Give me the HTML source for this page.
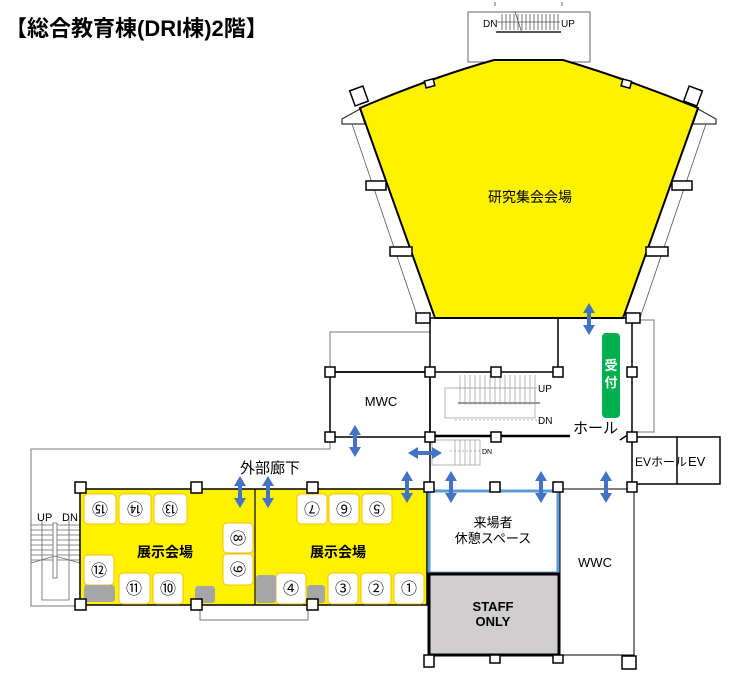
<!DOCTYPE html>
<html><head><meta charset="utf-8"><style>
html,body{margin:0;padding:0;background:#fff;}
svg{display:block;font-family:"Liberation Sans","Noto Sans CJK JP",sans-serif;}
</style></head><body>
<svg width="741" height="680" viewBox="0 0 741 680" xmlns="http://www.w3.org/2000/svg">
<defs>
<g id="va"><polygon points="0,-16 -6,-6 -2,-6 -2,6 -6,6 0,16 6,6 2,6 2,-6 6,-6" fill="#4472c4"/></g>
<g id="ha"><polygon points="-17,0 -7,-6 -7,-2 7,-2 7,-6 17,0 7,6 7,2 -7,2 -7,6" fill="#4472c4"/></g>
</defs>
<text x="5" y="36" font-size="22" font-weight="bold">【総合教育棟(DRI棟)2階】</text>

<!-- top stair -->
<rect x="468" y="12" width="122" height="50" fill="#fff" stroke="#666" stroke-width="1"/>
<line x1="495" y1="2" x2="495" y2="6" stroke="#666"/><line x1="562" y1="2" x2="562" y2="6" stroke="#666"/>
<g stroke="#555" stroke-width="0.8">
<line x1="497" y1="22" x2="560" y2="22"/><line x1="496" y1="32" x2="561" y2="32" stroke-width="2"/>
<path d="M502 14v16M506 14v16M510 14v16M514 14v16M518 14v16M522 14v16M526 14v16M530 14v16M534 14v16M538 14v16M542 14v16M546 14v16M550 14v16M554 14v16M558 14v16"/>
<line x1="515" y1="12" x2="522" y2="33"/></g>
<text x="483" y="27" font-size="10">DN</text><text x="561" y="27" font-size="10">UP</text>

<!-- wing lines -->
<g fill="#fff" stroke="#333" stroke-width="1.2">
<polygon points="342,124 342,119 360,109 365,124"/>
<polygon points="716,124 716,119 698,109 693,124"/>
</g>
<line x1="352" y1="124" x2="418" y2="318" stroke="#555" stroke-width="0.8"/>
<line x1="706" y1="124" x2="640" y2="318" stroke="#555" stroke-width="0.8"/>
<!-- main hall -->
<path d="M360,108 Q430,78 494,60 L563,60 Q630,80 698,108 L623,318 L435,318 Z" fill="#fff200" stroke="#000" stroke-width="2"/>
<g fill="#fff" stroke="#000" stroke-width="1.5">
<rect x="352" y="88" width="14" height="16" transform="rotate(-20 359 96)"/>
<rect x="686" y="88" width="14" height="16" transform="rotate(20 693 96)"/>
<rect x="425" y="80" width="9" height="7" transform="rotate(-15 429 83)"/>
<rect x="622" y="80" width="9" height="7" transform="rotate(15 626 83)"/>
<rect x="366" y="181" width="20" height="9"/><rect x="390" y="247" width="22" height="9"/>
<rect x="672" y="181" width="20" height="9"/><rect x="646" y="247" width="22" height="9"/>
</g>
<text x="530" y="202" font-size="14" text-anchor="middle">研究集会会場</text>

<!-- thin outlines -->
<g fill="none" stroke="#777" stroke-width="1">
<polyline points="330,437 330,449 31,449 31,606 80,606"/>
<polyline points="330,372 330,332 430,332"/>
<polyline points="632,320 654,320 654,432 632,432"/>
<polyline points="200,605 200,620 308,620 308,605"/>
</g>
<!-- central walls -->
<g fill="none" stroke="#000" stroke-width="1.5">
<line x1="428" y1="318" x2="632" y2="318"/>
<line x1="430" y1="318" x2="430" y2="489"/>
<line x1="632" y1="318" x2="632" y2="437"/>
<line x1="558" y1="318" x2="558" y2="372"/>
<line x1="330" y1="372" x2="560" y2="372"/>
<rect x="330" y="372" width="100" height="65"/>
<line x1="430" y1="436" x2="570" y2="436" stroke-width="2.5"/>
<rect x="632" y="437" width="88" height="47"/>
<line x1="677" y1="437" x2="677" y2="484"/>
<line x1="632" y1="484" x2="632" y2="489"/>
<line x1="620" y1="440" x2="632" y2="432"/>
<line x1="622" y1="490" x2="634" y2="498"/>
</g>
<!-- stairs center -->
<g stroke="#999" stroke-width="0.7" fill="none">
<rect x="445" y="388" width="90" height="30"/>
<path d="M460 375v30M465 375v30M470 375v30M475 375v30M480 375v30M485 375v30M490 375v30M495 375v30M500 375v30M505 375v30M510 375v30M515 375v30M520 375v30M525 375v30M530 375v30M535 375v30"/>
<line x1="455" y1="388" x2="540" y2="388" stroke-dasharray="2,2"/>
<line x1="455" y1="420" x2="540" y2="420" stroke-dasharray="2,2"/>
<line x1="458" y1="403" x2="540" y2="403" stroke-width="2"/>
<rect x="432" y="440" width="48" height="25"/>
<path d="M455 440v25M460 440v25M465 440v25M470 440v25M475 440v25"/>
<line x1="450" y1="451" x2="480" y2="451" stroke-dasharray="2,2"/>
</g>
<text x="538" y="392" font-size="10">UP</text><text x="538" y="424" font-size="10">DN</text>
<text x="482" y="454" font-size="7">DN</text>
<text x="381" y="406" font-size="13" text-anchor="middle">MWC</text>
<text x="573" y="433" font-size="15">ホール</text>
<rect x="602" y="333" width="18" height="85" rx="4" fill="#00b050"/>
<text x="611" y="370" font-size="13" font-weight="bold" fill="#fff" text-anchor="middle">受</text>
<text x="611" y="387" font-size="13" font-weight="bold" fill="#fff" text-anchor="middle">付</text>
<text x="635" y="466" font-size="12">EVホール</text><text x="688" y="466" font-size="13">EV</text>

<!-- left stair -->
<g stroke="#666" stroke-width="0.8" fill="none">
<path d="M31 525h49M31 530h49M31 535h49M31 540h49M31 545h49M31 550h49M31 555h49M31 560h49"/>
<line x1="42" y1="520" x2="42" y2="590"/><line x1="69" y1="520" x2="69" y2="590"/>
<rect x="53" y="523" width="4" height="55" fill="#fff"/>
<polyline points="42,590 42,600 69,600 69,590"/>
<polyline points="31,563 55,556 80,563"/>
</g>
<text x="37" y="521" font-size="11">UP</text><text x="62" y="521" font-size="11">DN</text>

<!-- exhibition -->
<rect x="80" y="489" width="347" height="116" fill="#fff200" stroke="#000" stroke-width="1.5"/>
<line x1="255" y1="489" x2="255" y2="605" stroke="#000" stroke-width="1.2"/>
<g fill="#fff" stroke="#f5c000" stroke-width="1">
<rect x="84" y="494" width="32" height="30" rx="4"/><rect x="119" y="494" width="32" height="30" rx="4"/><rect x="154" y="494" width="33" height="30" rx="4"/>
<rect x="223" y="523" width="30" height="30" rx="4"/><rect x="223" y="554" width="30" height="31" rx="4"/>
<rect x="84" y="555" width="30" height="30" rx="4"/>
<rect x="119" y="573" width="31" height="31" rx="4"/><rect x="153" y="573" width="30" height="31" rx="4"/>
<rect x="297" y="494" width="30" height="30" rx="4"/><rect x="329" y="494" width="30" height="30" rx="4"/><rect x="362" y="494" width="30" height="30" rx="4"/>
<rect x="276" y="573" width="30" height="31" rx="4"/><rect x="328" y="573" width="30" height="31" rx="4"/><rect x="361" y="573" width="30" height="31" rx="4"/><rect x="394" y="573" width="30" height="31" rx="4"/>
</g>
<g fill="#a6a6a6">
<rect x="84" y="585" width="31" height="17" rx="3"/><rect x="195" y="586" width="20" height="17" rx="3"/>
<rect x="256" y="575" width="20" height="28" rx="3"/><rect x="307" y="585" width="18" height="18" rx="3"/>
</g>
<g font-size="16" text-anchor="middle">
<text transform="rotate(180 100 509)" x="100" y="515">⑮</text>
<text transform="rotate(180 135 509)" x="135" y="515">⑭</text>
<text transform="rotate(180 170 509)" x="170" y="515">⑬</text>
<text transform="rotate(90 238 538)" x="238" y="544">⑧</text>
<text transform="rotate(90 238 569)" x="238" y="575">⑨</text>
<text x="99" y="576">⑫</text><text x="134" y="594">⑪</text><text x="168" y="594">⑩</text>
<text transform="rotate(180 312 509)" x="312" y="515">⑦</text>
<text transform="rotate(180 344 509)" x="344" y="515">⑥</text>
<text transform="rotate(180 377 509)" x="377" y="515">⑤</text>
<text x="291" y="594">④</text><text x="343" y="594">③</text><text x="376" y="594">②</text><text x="409" y="594">①</text>
</g>
<g font-size="14" font-weight="bold" text-anchor="middle">
<text x="165" y="557">展示会場</text><text x="338" y="557">展示会場</text>
</g>
<text x="270" y="473" font-size="15" text-anchor="middle">外部廊下</text>

<!-- rest / staff / wwc -->
<rect x="560" y="489" width="74" height="166" fill="#fff" stroke="#000" stroke-width="1"/>
<line x1="634" y1="498" x2="634" y2="655" stroke="#000"/>
<rect x="429" y="491" width="129" height="82" fill="#fff" stroke="#5b9bd5" stroke-width="3"/>
<rect x="429" y="574" width="130" height="81" fill="#d0cece" stroke="#000" stroke-width="3"/>
<g font-size="13" text-anchor="middle">
<text x="493" y="527">来場者</text><text x="493" y="543">休憩スペース</text>
<text x="595" y="567">WWC</text>
</g>
<g font-size="13" font-weight="bold" text-anchor="middle">
<text x="493" y="611">STAFF</text><text x="493" y="626">ONLY</text>
</g>

<!-- column squares -->
<g fill="#fff" stroke="#000" stroke-width="1.5">
<rect x="75" y="482" width="11" height="11"/><rect x="191" y="482" width="11" height="11"/><rect x="307" y="482" width="11" height="11"/>
<rect x="75" y="599" width="11" height="11"/><rect x="191" y="599" width="11" height="11"/><rect x="307" y="599" width="11" height="11"/>
<rect x="424" y="482" width="10" height="10"/><rect x="490" y="482" width="10" height="10"/><rect x="553" y="482" width="10" height="10"/><rect x="627" y="482" width="10" height="10"/>
<rect x="424" y="655" width="10" height="12"/><rect x="490" y="655" width="10" height="8"/><rect x="553" y="655" width="10" height="8"/><rect x="622" y="656" width="14" height="13"/>
<rect x="325" y="367" width="10" height="10"/><rect x="425" y="367" width="10" height="10"/><rect x="491" y="367" width="10" height="10"/><rect x="553" y="367" width="10" height="10"/><rect x="627" y="367" width="10" height="10"/>
<rect x="325" y="432" width="10" height="10"/><rect x="425" y="432" width="10" height="10"/><rect x="491" y="432" width="10" height="10"/><rect x="627" y="432" width="10" height="10"/>
<rect x="416" y="313" width="14" height="10"/><rect x="626" y="313" width="14" height="10"/>
</g>

<!-- arrows -->
<use href="#va" x="240" y="492"/><use href="#va" x="268" y="492"/><use href="#va" x="355" y="441"/>
<use href="#va" x="407" y="487"/><use href="#va" x="451" y="487"/><use href="#va" x="541" y="487"/>
<use href="#va" x="606" y="487"/><use href="#va" x="589" y="319"/>
<use href="#ha" x="425" y="453"/>
</svg>
</body></html>
